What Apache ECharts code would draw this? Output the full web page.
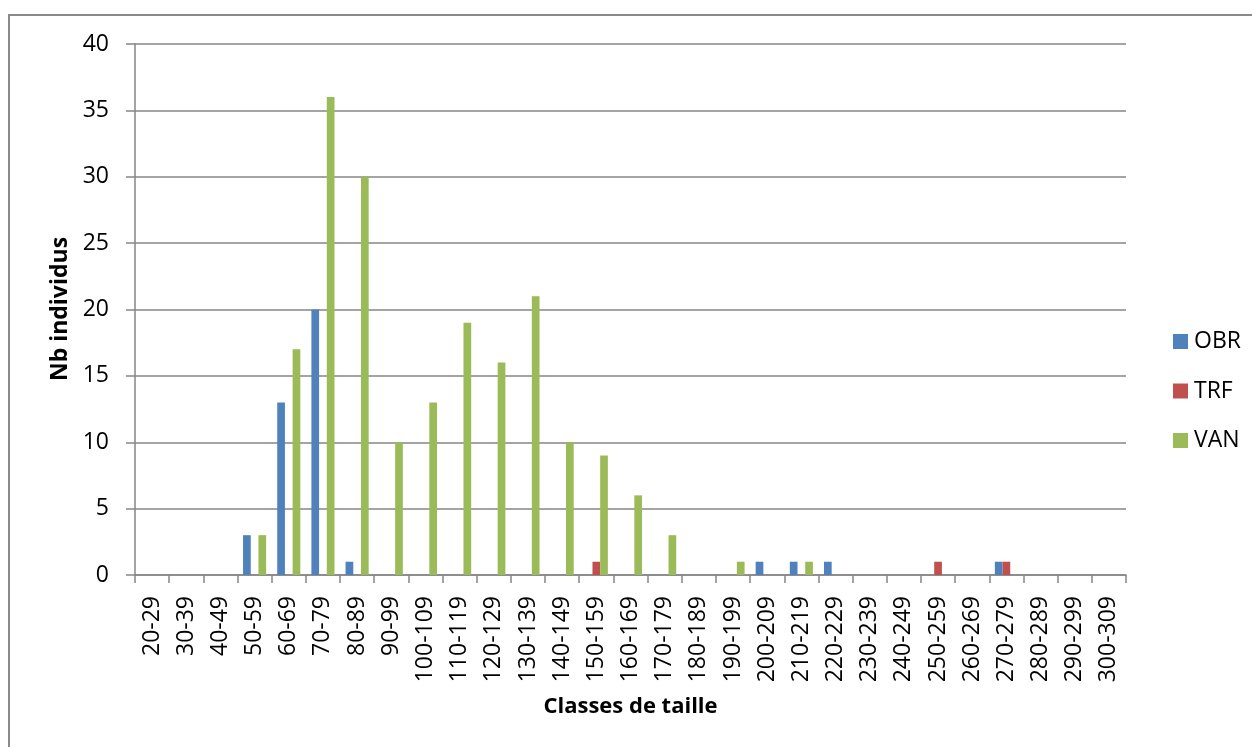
<!DOCTYPE html>
<html>
<head>
<meta charset="utf-8">
<script src="https://cdn.jsdelivr.net/npm/echarts@6/dist/echarts.min.js"></script>
<style>
  html, body { margin: 0; padding: 0; background: #fff; }
  #chart { width: 1252px; height: 747px; }
</style>
</head>
<body>
<div id="chart"></div>
<script>
const categories = ['20-29', '30-39', '40-49', '50-59', '60-69', '70-79', '80-89', '90-99',
  '100-109', '110-119', '120-129', '130-139', '140-149', '150-159', '160-169', '170-179',
  '180-189', '190-199', '200-209', '210-219', '220-229', '230-239', '240-249', '250-259',
  '260-269', '270-279', '280-289', '290-299', '300-309']

const obr = [0, 0, 0, 3, 13, 20, 1, 0, 0, 0, 0, 0, 0, 0, 0, 0, 0, 0, 1, 1, 1, 0, 0, 0, 0, 1, 0, 0, 0]
const trf = [0, 0, 0, 0, 0, 0, 0, 0, 0, 0, 0, 0, 0, 1, 0, 0, 0, 0, 0, 0, 0, 0, 0, 1, 0, 1, 0, 0, 0]
const van = [0, 0, 0, 3, 17, 36, 30, 10, 13, 19, 16, 21, 10, 9, 6, 3, 0, 1, 0, 1, 0, 0, 0, 0, 0, 0, 0, 0, 0]

const yTicks = { min: 0, max: 40, interval: 5 }

const font = '"Open Sans", "Noto Sans", sans-serif'
const axisGray = '#868686'

const barSeries = (name, data, color) => ({
  name,
  type: 'bar',
  data,
  barWidth: 7.7,
  barGap: '0%',
  itemStyle: { color },
  emphasis: { disabled: true },
})

const myChart = echarts.init(document.getElementById('chart'))
myChart.setOption({
  animation: false,
  textStyle: { fontFamily: font },
  grid: { left: 135, right: 126, top: 44, bottom: 172, containLabel: false },
  legend: {
    orient: 'vertical',
    left: 1168,
    top: 325,
    itemWidth: 15,
    itemHeight: 15,
    itemGap: 26.5,
    icon: 'rect',
    textStyle: { fontSize: 23, color: '#000', fontFamily: font, lineHeight: 22, padding: [0, 0, 0, 1] },
    data: ['OBR', 'TRF', 'VAN'],
  },
  xAxis: {
    type: 'category',
    data: categories,
    boundaryGap: true,
    name: 'Classes de taille',
    nameLocation: 'middle',
    nameGap: 121,
    nameTextStyle: { fontSize: 22, fontWeight: 'bold', color: '#000', fontFamily: font },
    axisLine: { lineStyle: { color: axisGray, width: 1.5 } },
    axisTick: { show: true, length: 8, lineStyle: { color: axisGray, width: 1.5 } },
    axisLabel: { rotate: 90, margin: 21, fontSize: 23, color: '#000', interval: 0, fontFamily: font },
  },
  yAxis: {
    type: 'value',
    min: yTicks.min,
    max: yTicks.max,
    interval: yTicks.interval,
    axisLine: { show: true, lineStyle: { color: axisGray, width: 1.5 } },
    axisTick: { show: true, length: 9, lineStyle: { color: axisGray, width: 1.5 } },
    axisLabel: { margin: 26, fontSize: 23, color: '#000', fontFamily: font },
    splitLine: { lineStyle: { color: axisGray, width: 1.5 } },
  },
  graphic: [
    {
      type: 'rect',
      shape: { x: 9, y: 15, width: 1400, height: 900 },
      style: { fill: 'none', stroke: '#8a8a8a', lineWidth: 2 },
      silent: true,
    },
    {
      type: 'text',
      x: 60,
      y: 309,
      rotation: Math.PI / 2,
      style: {
        text: 'Nb individus',
        font: 'bold 23px ' + font,
        fill: '#000',
        align: 'center',
        verticalAlign: 'middle',
      },
    },
  ],
  series: [
    barSeries('OBR', obr, '#4F81BD'),
    barSeries('TRF', trf, '#C0504D'),
    barSeries('VAN', van, '#9BBB59'),
  ],
})
</script>
</body>
</html>
